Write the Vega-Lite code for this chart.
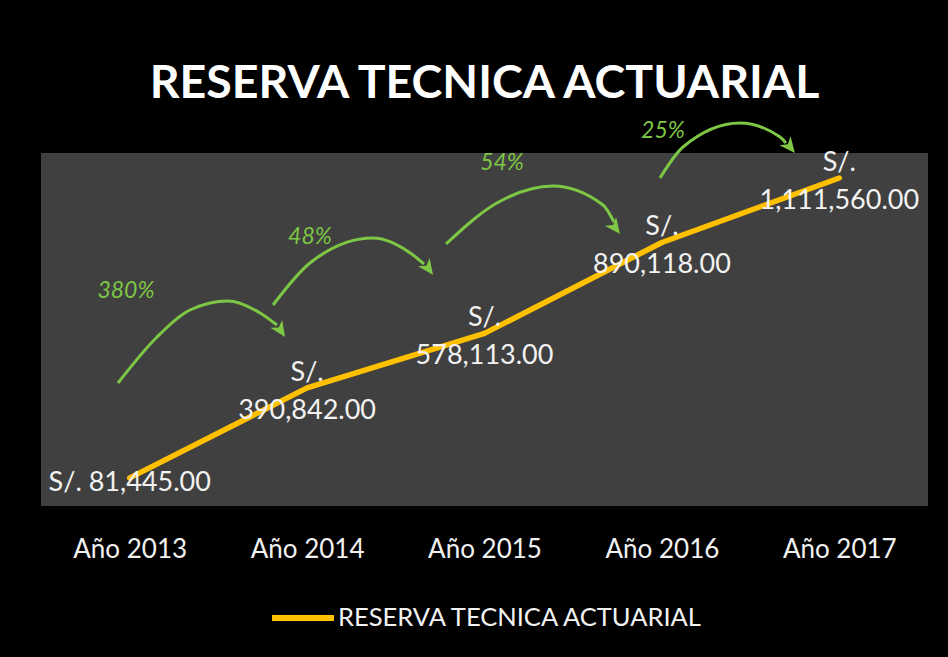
{
  "$schema": "https://vega.github.io/schema/vega-lite/v6.json",
  "width": 887,
  "height": 353,
  "autosize": {"type": "none"},
  "padding": {"left": 41, "top": 153, "right": 20, "bottom": 151},
  "background": "#000000",
  "title": {
    "text": "RESERVA TECNICA ACTUARIAL",
    "anchor": "middle",
    "color": "#FFFFFF",
    "font": "Lato",
    "fontSize": 46.5,
    "fontWeight": "bold",
    "baseline": "alphabetic",
    "offset": 46,
    "dy": 73
  },
  "config": {
    "view": {"fill": "#404040", "stroke": null},
    "axis": {"labelFont": "Lato"},
    "legend": {"labelFont": "Lato"}
  },
  "datasets": {
    "serie": [
      {"anio": 2013, "valor": 81445, "etiqueta": "S/. 81,445.00", "serie": "RESERVA TECNICA ACTUARIAL"},
      {"anio": 2014, "valor": 390842, "etiqueta": "S/.\n390,842.00", "serie": "RESERVA TECNICA ACTUARIAL"},
      {"anio": 2015, "valor": 578113, "etiqueta": "S/.\n578,113.00", "serie": "RESERVA TECNICA ACTUARIAL"},
      {"anio": 2016, "valor": 890118, "etiqueta": "S/.\n890,118.00", "serie": "RESERVA TECNICA ACTUARIAL"},
      {"anio": 2017, "valor": 1111560, "etiqueta": "S/.\n1,111,560.00", "serie": "RESERVA TECNICA ACTUARIAL"}
    ],
    "arcos": [
      {"arco": 1, "anio": 2012.934, "valor": 407500},
      {"arco": 1, "anio": 2013.154, "valor": 565500},
      {"arco": 1, "anio": 2013.340, "valor": 658200},
      {"arco": 1, "anio": 2013.554, "valor": 689100},
      {"arco": 1, "anio": 2013.735, "valor": 647900},
      {"arco": 1, "anio": 2013.830, "valor": 606700},
      {"arco": 2, "anio": 2013.808, "valor": 675400},
      {"arco": 2, "anio": 2014.016, "valor": 819700},
      {"arco": 2, "anio": 2014.371, "valor": 905500},
      {"arco": 2, "anio": 2014.597, "valor": 847100},
      {"arco": 2, "anio": 2014.659, "valor": 816200},
      {"arco": 3, "anio": 2014.783, "valor": 884900},
      {"arco": 3, "anio": 2015.070, "valor": 1025700},
      {"arco": 3, "anio": 2015.386, "valor": 1084100},
      {"arco": 3, "anio": 2015.668, "valor": 1018900},
      {"arco": 3, "anio": 2015.730, "valor": 960500},
      {"arco": 4, "anio": 2015.989, "valor": 1111600},
      {"arco": 4, "anio": 2016.119, "valor": 1218100},
      {"arco": 4, "anio": 2016.440, "valor": 1300500},
      {"arco": 4, "anio": 2016.666, "valor": 1252400},
      {"arco": 4, "anio": 2016.699, "valor": 1231800}
    ],
    "puntas": [
      {"arco": 1, "anio": 2013.876, "valor": 565500},
      {"arco": 2, "anio": 2014.710, "valor": 778400},
      {"arco": 3, "anio": 2015.764, "valor": 919300},
      {"arco": 4, "anio": 2016.750, "valor": 1197500}
    ],
    "porcentajes": [
      {"texto": "380%", "anio": 2012.979, "valor": 723500},
      {"texto": "48%", "anio": 2014.016, "valor": 909000},
      {"texto": "54%", "anio": 2015.099, "valor": 1163100},
      {"texto": "25%", "anio": 2016.006, "valor": 1273000}
    ]
  },
  "encoding": {
    "x": {
      "field": "anio",
      "type": "quantitative",
      "scale": {"domain": [2012.5, 2017.5], "nice": false, "zero": false},
      "axis": {
        "values": [2013, 2014, 2015, 2016, 2017],
        "labelExpr": "'Año ' + datum.value",
        "title": null,
        "grid": false,
        "ticks": false,
        "domain": false,
        "labelColor": "#F2F2F2",
        "labelFontSize": 26,
        "labelPadding": 30
      }
    },
    "y": {
      "field": "valor",
      "type": "quantitative",
      "scale": {"domain": [-15000, 1197500], "nice": false, "zero": false},
      "axis": null
    }
  },
  "layer": [
    {
      "data": {"name": "arcos"},
      "mark": {"type": "line", "interpolate": "monotone", "color": "#7DC744", "strokeWidth": 3},
      "encoding": {"detail": {"field": "arco", "type": "nominal"}}
    },
    {
      "data": {"name": "puntas"},
      "mark": {
        "type": "point",
        "shape": "M0,0L-0.45,-1L0,-0.72L0.45,-1Z",
        "filled": true,
        "opacity": 1,
        "color": "#7DC744",
        "size": 1000
      },
      "encoding": {
        "angle": {
          "field": "arco",
          "type": "ordinal",
          "scale": {"domain": [1, 2, 3, 4], "range": [-34, -39, -27, -42]},
          "legend": null
        }
      }
    },
    {
      "data": {"name": "porcentajes"},
      "mark": {
        "type": "text",
        "font": "Lato",
        "fontStyle": "italic",
        "fontSize": 23,
        "color": "#7DC744",
        "align": "center",
        "baseline": "middle"
      },
      "encoding": {"text": {"field": "texto", "type": "nominal"}}
    },
    {
      "data": {"name": "serie"},
      "mark": {"type": "line", "strokeWidth": 5.5, "strokeCap": "round", "strokeJoin": "round"},
      "encoding": {
        "color": {
          "field": "serie",
          "type": "nominal",
          "scale": {"range": ["#FFC000"]},
          "legend": {
            "title": null,
            "orient": "none",
            "legendX": 228,
            "legendY": 431,
            "padding": 0,
            "symbolType": "stroke",
            "symbolSize": 3844,
            "symbolStrokeWidth": 6,
            "labelColor": "#F2F2F2",
            "labelFontSize": 25.5,
            "labelOffset": 1,
            "labelLimit": 600
          }
        }
      }
    },
    {
      "data": {"name": "serie"},
      "transform": [{"filter": "datum.anio === 2013"}],
      "mark": {
        "type": "text",
        "font": "Lato",
        "fontSize": 27,
        "color": "#F2F2F2",
        "align": "center",
        "baseline": "middle",
        "dy": 5
      },
      "encoding": {"text": {"field": "etiqueta", "type": "nominal"}}
    },
    {
      "data": {"name": "serie"},
      "transform": [{"filter": "datum.anio !== 2013"}],
      "mark": {
        "type": "text",
        "font": "Lato",
        "fontSize": 27,
        "lineHeight": 38,
        "lineBreak": "\n",
        "color": "#F2F2F2",
        "align": "center",
        "baseline": "middle",
        "dy": -15
      },
      "encoding": {"text": {"field": "etiqueta", "type": "nominal"}}
    }
  ]
}
